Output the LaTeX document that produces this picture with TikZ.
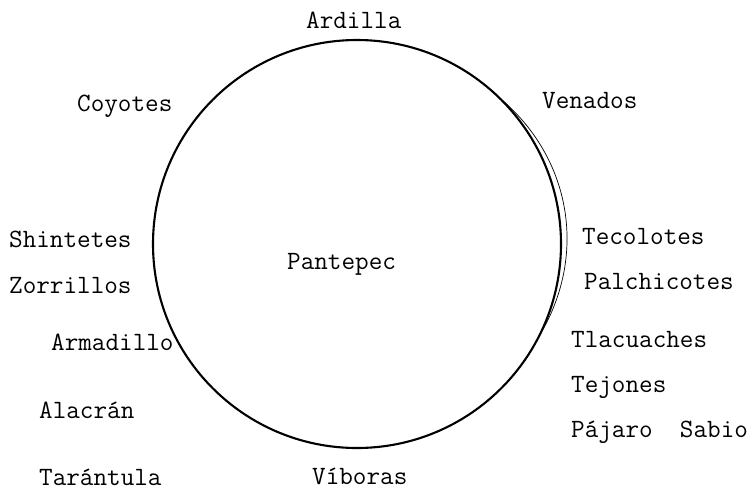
\documentclass[tikz,border=0pt]{standalone}
\usepackage{fontspec}
\begin{document}
\begin{tikzpicture}[x=1pt,y=-1pt,
  lbl/.style={anchor=base west,inner sep=0pt,font=\ttfamily\fontsize{26.4}{28}\selectfont}]
\useasboundingbox (0,0) rectangle (752,491);
\coordinate (c) at (357,244);
\draw[line width=2.1pt] (c) circle[radius=204];
\draw[line width=0.7pt] plot[domain=-46:27,samples=50,smooth]
  ({357+(204+6.5*sin((\x+46)*180/73))*cos(\x)},{244+(204+6.5*sin((\x+46)*180/73))*sin(\x)});
\node[lbl] (ardilla) at (306,28) {Ardilla};
\node[lbl] (coyotes) at (77,111) {Coyotes};
\node[lbl] (venados) at (542,108) {Venados};
\node[lbl] (shintetes) at (9,247) {Shintetes};
\node[lbl] (zorrillos) at (9,293) {Zorrillos};
\node[lbl] (armadillo) at (51,350) {Armadillo};
\node[lbl] (alacran) at (39,418) {Alacrán};
\node[lbl] (tarantula) at (39,485) {Tarántula};
\node[lbl] (pantepec) at (287,269) {Pantepec};
\node[lbl] (viboras) at (312,484) {Víboras};
\node[lbl] (tecolotes) at (582,244) {Tecolotes};
\node[lbl] (palchicotes) at (584,289) {Palchicotes};
\node[lbl] (tlacuaches) at (571,347) {Tlacuaches};
\node[lbl] (tejones) at (571,392) {Tejones};
\node[lbl] (pajaro) at (571,437) {Pájaro\ \ Sabio};
\end{tikzpicture}
\end{document}
